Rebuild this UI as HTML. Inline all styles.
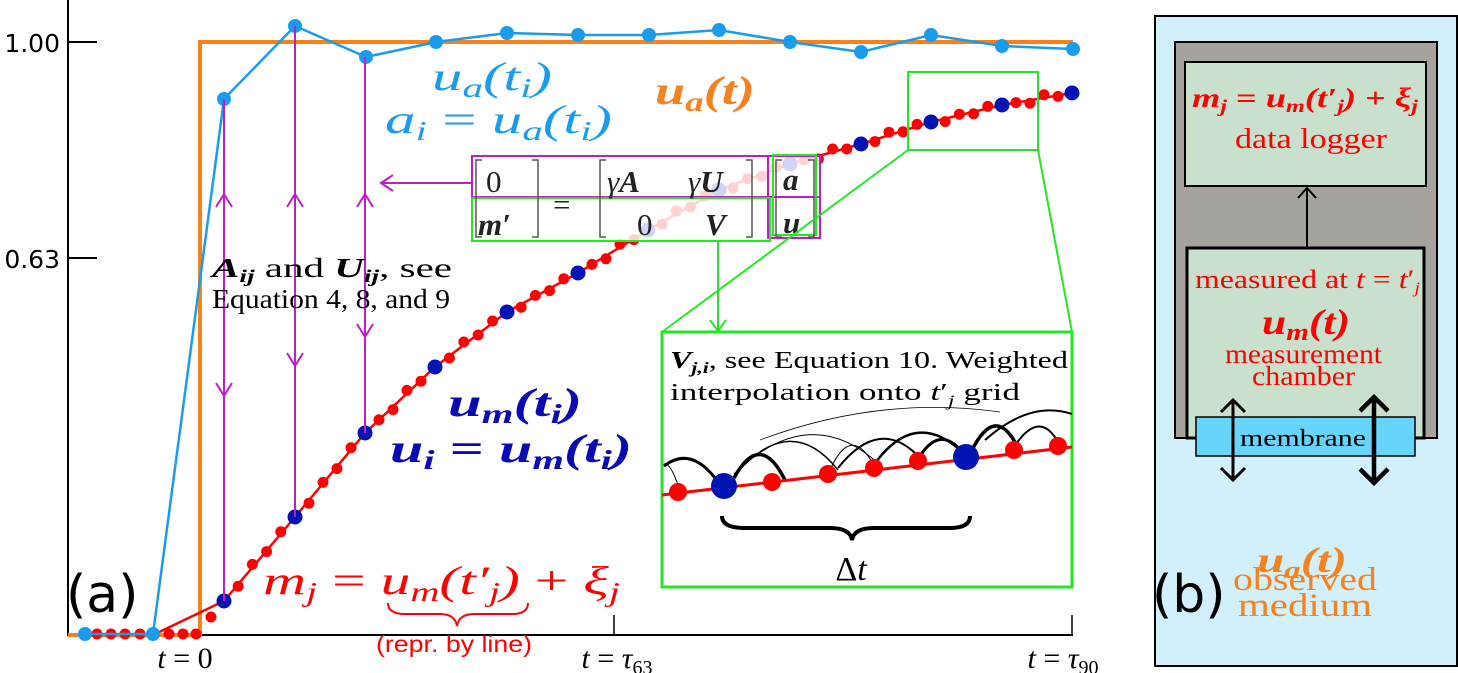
<!DOCTYPE html>
<html><head><meta charset="utf-8"><style>
html,body{margin:0;padding:0;background:#fff}
svg{display:block}
.s{font-family:"Liberation Serif",serif}
.i{font-style:italic}
.b{font-weight:bold}
</style></head><body>
<svg id="g" width="1458" height="673" viewBox="0 0 1458 673" xmlns="http://www.w3.org/2000/svg">
<!-- axes -->
<line x1="68" y1="0" x2="68" y2="636" stroke="#000" stroke-width="2"/>
<line x1="67" y1="635" x2="1073" y2="635" stroke="#000" stroke-width="2"/>
<line x1="68" y1="42" x2="97" y2="42" stroke="#000" stroke-width="2"/>
<line x1="68" y1="258" x2="97" y2="258" stroke="#000" stroke-width="2"/>
<line x1="614" y1="635" x2="614" y2="615" stroke="#000" stroke-width="1.5"/>
<line x1="1072" y1="635" x2="1072" y2="615" stroke="#000" stroke-width="1.5"/>
<text x="60" y="52" font-family="DejaVu Sans,sans-serif" font-size="25" text-anchor="end">1.00</text>
<text x="60" y="268" font-family="DejaVu Sans,sans-serif" font-size="25" text-anchor="end">0.63</text>
<text x="185" y="668" class="s" font-size="30" text-anchor="middle"><tspan class="i">t</tspan> = 0</text>
<text x="617" y="668" class="s" font-size="30" text-anchor="middle"><tspan class="i">t</tspan> = <tspan class="i">τ</tspan><tspan font-size="20" dy="6">63</tspan></text>
<text x="1063" y="668" class="s" font-size="30" text-anchor="middle"><tspan class="i">t</tspan> = <tspan class="i">τ</tspan><tspan font-size="20" dy="6">90</tspan></text>

<!-- orange step -->
<polyline points="68,635 200,635 200,42 1073,42" fill="none" stroke="#f5821f" stroke-width="4"/>

<g id="red"></g>

<!-- light blue -->
<polyline id="lb" fill="none" stroke="#1a9cec" stroke-width="2.5" points="85,634 153,634 224,99 295,26 366,57 436,42 507,33 578,35 649,35 719,30 790,42 861,52 931,35 1002,46 1073,49"/>
<g id="lbd" fill="#1a9cec"></g>

<!-- magenta verticals -->
<g stroke="#c21bc9" stroke-width="2" fill="none">
<line x1="224" y1="99" x2="224" y2="601"/>
<line x1="295" y1="26" x2="295" y2="517"/>
<line x1="365" y1="57" x2="365" y2="433"/>
<polyline points="216,207 224,194 232,207"/>
<polyline points="287,207 295,194 303,207"/>
<polyline points="357,207 365,194 373,207"/>
<polyline points="216,383 224,396 232,383"/>
<polyline points="287,353 295,366 303,353"/>
<polyline points="357,324 365,337 373,324"/>
<line x1="472" y1="183" x2="381" y2="183"/>
<polyline points="393,175 381,183 393,191"/>
</g>

<!-- fade box -->
<rect x="472" y="156" width="348" height="85" fill="#fff" opacity="0.82"/>
<rect x="472" y="156" width="348" height="41" fill="none" stroke="#c21bc9" stroke-width="2"/>
<rect x="768" y="156" width="52" height="82" fill="none" stroke="#c21bc9" stroke-width="2"/>
<rect x="472" y="198" width="298" height="43" fill="none" stroke="#22e822" stroke-width="2"/>
<rect x="773" y="155" width="43" height="80" fill="none" stroke="#22e822" stroke-width="2"/>
<g class="s" font-size="31" fill="#222">
<text x="486" y="192">0</text>
<text x="478" y="235" class="i b">m′</text>
<text x="553" y="215">=</text>
<text x="607" y="192"><tspan class="i">γ</tspan><tspan class="i b">A</tspan></text>
<text x="688" y="192"><tspan class="i">γ</tspan><tspan class="i b">U</tspan></text>
<text x="637" y="235">0</text>
<text x="705" y="235" class="i b">V</text>
<text x="783" y="190" class="i b">a</text>
<text x="783" y="233" class="i b">u</text>
</g>
<g stroke="#555" stroke-width="1.5" fill="none">
<polyline points="482,160 476,160 476,237 482,237"/><polyline points="532,160 538,160 538,237 532,237"/>
<polyline points="606,160 600,160 600,237 606,237"/><polyline points="746,160 752,160 752,237 746,237"/>
<polyline points="782,160 776,160 776,237 782,237"/><polyline points="808,160 814,160 814,237 808,237"/>
</g>

<!-- green zoom -->
<g stroke="#22e822" stroke-width="2" fill="none">
<rect x="908" y="72" width="130" height="78"/>
<line x1="908" y1="150" x2="662" y2="332"/>
<line x1="1038" y1="150" x2="1072" y2="332"/>
<line x1="718" y1="241" x2="718" y2="330"/>
<polyline points="710,320 718,331 726,320"/>
</g>
<rect x="662" y="332" width="410" height="255" fill="#fff" stroke="#22e822" stroke-width="3"/>
<text x="670" y="368" class="s" font-size="24" textLength="398" lengthAdjust="spacingAndGlyphs"><tspan class="i b">V</tspan><tspan class="i b" font-size="16" dy="5">j,i</tspan><tspan dy="-5">, see Equation 10. Weighted</tspan></text>
<text x="670" y="400" class="s" font-size="24" textLength="350" lengthAdjust="spacingAndGlyphs">interpolation onto <tspan class="i">t</tspan>′<tspan class="i" font-size="16" dy="6">j</tspan><tspan dy="-6"> grid</tspan></text>
<g stroke="#000" fill="none">
<path d="M664,466 Q690,446 715,478" stroke-width="3"/>
<path d="M678,485 Q670,462 664,464" stroke-width="1"/>
<path d="M734,478 Q760,430 785,480" stroke-width="3.5"/>
<path d="M734,476 Q790,410 838,470" stroke-width="1.5"/>
<path d="M734,474 Q810,400 880,465" stroke-width="1"/>
<path d="M830,470 Q850,425 872,462" stroke-width="1"/>
<path d="M838,468 Q880,415 920,458" stroke-width="2"/>
<path d="M876,462 Q915,410 960,450" stroke-width="2.5"/>
<path d="M920,456 Q940,425 962,452" stroke-width="3"/>
<path d="M972,450 Q995,405 1016,444" stroke-width="3.5"/>
<path d="M1016,444 Q1040,410 1058,442" stroke-width="2"/>
<path d="M985,440 Q1030,400 1072,414" stroke-width="2"/>
<path d="M760,440 Q880,395 1000,412" stroke-width="0.8"/>
</g>
<line x1="662" y1="495" x2="1072" y2="447" stroke="#f00" stroke-width="3"/>
<g fill="#f00">
<circle cx="678" cy="492" r="9"/><circle cx="772" cy="482" r="9"/><circle cx="828" cy="474" r="9"/>
<circle cx="874" cy="468" r="9"/><circle cx="918" cy="461" r="9"/><circle cx="1014" cy="450" r="9"/><circle cx="1058" cy="446" r="9"/>
</g>
<circle cx="724" cy="486" r="13" fill="#0014b4"/><circle cx="966" cy="457" r="13" fill="#0014b4"/>
<path d="M722,516 Q722,528 745,528 L830,528 Q850,528 852,540 Q854,528 874,528 L950,528 Q970,528 970,516" fill="none" stroke="#000" stroke-width="4"/>
<text x="851" y="580" class="s" font-size="34" text-anchor="middle">Δ<tspan class="i">t</tspan></text>

<!-- labels -->
<g class="s i" font-size="40" fill="#1a9cec">
<text x="432" y="90" textLength="120" lengthAdjust="spacingAndGlyphs">u<tspan font-size="27" dy="7">a</tspan><tspan dy="-7">(t</tspan><tspan font-size="27" dy="7">i</tspan><tspan dy="-7">)</tspan></text>
<text x="385" y="133" textLength="227" lengthAdjust="spacingAndGlyphs">a<tspan font-size="27" dy="7">i</tspan><tspan dy="-7" font-style="normal"> = </tspan>u<tspan font-size="27" dy="7">a</tspan><tspan dy="-7">(t</tspan><tspan font-size="27" dy="7">i</tspan><tspan dy="-7">)</tspan></text>
</g>
<text x="655" y="104" class="s i b" font-size="40" fill="#f5821f" textLength="100" lengthAdjust="spacingAndGlyphs">u<tspan font-size="27" dy="7">a</tspan><tspan dy="-7">(t)</tspan></text>
<g class="s i b" font-size="40" fill="#0a0ab4">
<text x="448" y="416" textLength="134" lengthAdjust="spacingAndGlyphs">u<tspan font-size="27" dy="7">m</tspan><tspan dy="-7">(t</tspan><tspan font-size="27" dy="7">i</tspan><tspan dy="-7">)</tspan></text>
<text x="390" y="462" textLength="242" lengthAdjust="spacingAndGlyphs">u<tspan font-size="27" dy="7">i</tspan><tspan dy="-7" font-style="normal"> = </tspan>u<tspan font-size="27" dy="7">m</tspan><tspan dy="-7">(t</tspan><tspan font-size="27" dy="7">i</tspan><tspan dy="-7">)</tspan></text>
</g>
<text x="263" y="594" class="s i" font-size="40" fill="#f00" textLength="357" lengthAdjust="spacingAndGlyphs">m<tspan font-size="27" dy="7">j</tspan><tspan dy="-7" font-style="normal"> = </tspan>u<tspan font-size="27" dy="7">m</tspan><tspan dy="-7">(t′</tspan><tspan font-size="27" dy="7">j</tspan><tspan dy="-7">)</tspan><tspan font-style="normal"> + </tspan>ξ<tspan font-size="27" dy="7">j</tspan></text>
<path d="M388,603 Q388,614 405,614 L440,614 Q455,614 457,626 Q459,614 474,614 L512,614 Q528,614 528,603" fill="none" stroke="#f00" stroke-width="2"/>
<text x="376" y="652" font-family="Liberation Sans,sans-serif" font-size="23" fill="#f00" textLength="156" lengthAdjust="spacingAndGlyphs">(repr. by line)</text>
<text x="212" y="277" class="s" font-size="27" textLength="240" lengthAdjust="spacingAndGlyphs"><tspan class="i b">A</tspan><tspan class="i b" font-size="18" dy="5">ij</tspan><tspan dy="-5"> and </tspan><tspan class="i b">U</tspan><tspan class="i b" font-size="18" dy="5">ij</tspan><tspan dy="-5">, see</tspan></text>
<text x="212" y="308" class="s" font-size="27" textLength="238" lengthAdjust="spacingAndGlyphs">Equation 4, 8, and 9</text>
<text x="66" y="612" font-family="DejaVu Sans,sans-serif" font-size="52">(a)</text>

<!-- panel b -->
<rect x="1155" y="16" width="302" height="650" fill="#d1f0fb" stroke="#000" stroke-width="2"/>
<rect x="1175" y="42" width="262" height="396" fill="#a6a39e" stroke="#000" stroke-width="2"/>
<rect x="1185" y="62" width="241" height="124" fill="#c8e0cc" stroke="#000" stroke-width="2"/>
<rect x="1187" y="248" width="237" height="190" fill="#c8e0cc" stroke="#000" stroke-width="3"/>
<line x1="1307" y1="248" x2="1307" y2="188" stroke="#000" stroke-width="2"/>
<polyline points="1298,198 1307,188 1316,198" fill="none" stroke="#000" stroke-width="2"/>
<text x="1192" y="107" class="s i b" font-size="27" fill="#f00" textLength="226" lengthAdjust="spacingAndGlyphs">m<tspan font-size="18" dy="5">j</tspan><tspan dy="-5" font-style="normal"> = </tspan>u<tspan font-size="18" dy="5">m</tspan><tspan dy="-5">(t′</tspan><tspan font-size="18" dy="5">j</tspan><tspan dy="-5">)</tspan><tspan font-style="normal"> + </tspan>ξ<tspan font-size="18" dy="5">j</tspan></text>
<text x="1235" y="148" class="s" font-size="29" fill="#f00" textLength="152" lengthAdjust="spacingAndGlyphs">data logger</text>
<text x="1195" y="288" class="s" font-size="26" fill="#f00" textLength="225" lengthAdjust="spacingAndGlyphs">measured at <tspan class="i">t</tspan> = <tspan class="i">t</tspan>′<tspan class="i" font-size="16" dy="5">j</tspan></text>
<text x="1262" y="334" class="s i b" font-size="36" fill="#f00" textLength="88" lengthAdjust="spacingAndGlyphs">u<tspan font-size="24" dy="6">m</tspan><tspan dy="-6">(t)</tspan></text>
<text x="1225" y="363" class="s" font-size="27" fill="#f00" textLength="157" lengthAdjust="spacingAndGlyphs">measurement</text>
<text x="1252" y="385" class="s" font-size="27" fill="#f00" textLength="103" lengthAdjust="spacingAndGlyphs">chamber</text>
<rect x="1196" y="417" width="219" height="39" fill="#66d4fb" stroke="#000" stroke-width="1.5"/>
<text x="1240" y="446" class="s" font-size="24" textLength="126" lengthAdjust="spacingAndGlyphs">membrane</text>
<g stroke="#000" fill="none">
<line x1="1233" y1="400" x2="1233" y2="480" stroke-width="3"/>
<polyline points="1221,412 1233,400 1245,412" stroke-width="3"/><polyline points="1221,468 1233,480 1245,468" stroke-width="3"/>
<line x1="1374" y1="397" x2="1374" y2="483" stroke-width="4.5"/>
<polyline points="1360,411 1374,397 1388,411" stroke-width="4.5"/><polyline points="1360,469 1374,483 1388,469" stroke-width="4.5"/>
</g>
<text x="1257" y="572" class="s i b" font-size="36" fill="#f5821f" textLength="90" lengthAdjust="spacingAndGlyphs">u<tspan font-size="24" dy="6">a</tspan><tspan dy="-6">(t)</tspan></text>
<text x="1233" y="590" class="s" font-size="33" fill="#f5821f" textLength="144" lengthAdjust="spacingAndGlyphs">observed</text>
<text x="1238" y="616" class="s" font-size="33" fill="#f5821f" textLength="134" lengthAdjust="spacingAndGlyphs">medium</text>
<text x="1152" y="612" font-family="DejaVu Sans,sans-serif" font-size="52">(b)</text>
</svg>
<script>
(function(){
var NS="http://www.w3.org/2000/svg";
function el(p,t,a){var e=document.createElementNS(NS,t);for(var k in a)e.setAttribute(k,a[k]);p.appendChild(e);return e;}
var red=document.getElementById("red");
var B=[[224,601],[295,517],[365,433],[435,367],[507,312],[578,273],[648,230],[719,190],[790,164],[861,144],[931,122],[1002,105],[1072,93]];
var pts="153,635 "+B.map(function(p){return p.join(",")}).join(" ");
el(red,"polyline",{points:pts,fill:"none",stroke:"#f00","stroke-width":2.5});
var bx=[97,111,125,140,169,183,196];
bx.forEach(function(x){el(red,"circle",{cx:x,cy:634,r:5.5,fill:"#f00"});});
el(red,"circle",{cx:211,cy:617,r:5.5,fill:"#f00"});
var jit=[2,-3,1,-2,3,-1,2,-2,0,3,-3,1];
var n=0;
for(var i=0;i<B.length-1;i++){
 for(var k=1;k<=4;k++){var f=k/5;var x=B[i][0]+(B[i+1][0]-B[i][0])*f;var y=B[i][1]+(B[i+1][1]-B[i][1])*f+jit[(n++)%jit.length];
 el(red,"circle",{cx:x,cy:y,r:5.5,fill:"#f00"});}
}
B.forEach(function(p){el(red,"circle",{cx:p[0],cy:p[1],r:7.5,fill:"#0014b4"});});
var lb=document.getElementById("lb").getAttribute("points").trim().split(/\s+/);
var g=document.getElementById("lbd");
lb.forEach(function(s){var p=s.split(",");el(g,"circle",{cx:p[0],cy:p[1],r:7,fill:"#1a9cec"});});
})();
</script>
</body></html>
